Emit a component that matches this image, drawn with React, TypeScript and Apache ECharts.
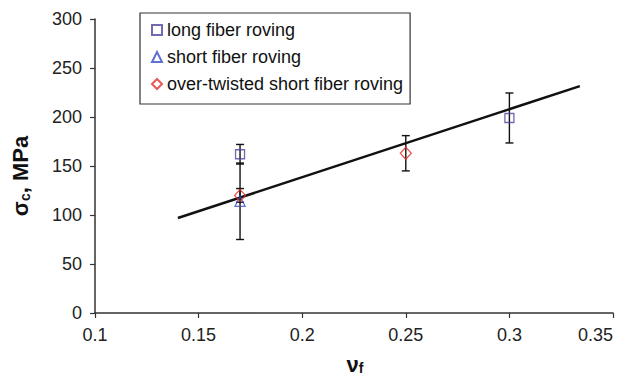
import React, { useEffect, useRef } from "react";
import * as echarts from "echarts";

const longX = [0.17, 0.3];
const longY = [162, 199];
const longErr = [10, 25.5];

const shortX = [0.17];
const shortY = [114];
const shortErr = [39];

const overX = [0.17, 0.25];
const overY = [120, 163];
const overErr = [7, 18];

const trendX = [0.14, 0.334];
const trendY = [97, 231.5];

const seriesNames = [
  "long fiber roving",
  "short fiber roving",
  "over-twisted short fiber roving",
];

const FONT = "Liberation Sans, Arial, Helvetica, sans-serif";

export default function App() {
  const ref = useRef<HTMLDivElement>(null);

  useEffect(() => {
    if (!ref.current) return;
    const chart = echarts.init(ref.current, undefined, { renderer: "svg" });

    const errData: number[][] = [];
    longX.forEach((x, i) => errData.push([x, longY[i] - longErr[i], longY[i] + longErr[i]]));
    shortX.forEach((x, i) => errData.push([x, shortY[i] - shortErr[i], shortY[i] + shortErr[i]]));
    overX.forEach((x, i) => errData.push([x, overY[i] - overErr[i], overY[i] + overErr[i]]));

    const option: any = {
      animation: false,
      backgroundColor: "#fff",
      textStyle: { fontFamily: FONT },
      grid: { left: 95, right: 14, top: 19, bottom: 68, containLabel: false },
      xAxis: {
        type: "value",
        min: 0.1,
        max: 0.35,
        interval: 0.05,
        splitLine: { show: false },
        axisLine: { show: true, onZero: false, lineStyle: { color: "#333", width: 1.5 } },
        axisTick: { show: true, inside: false, length: 5, lineStyle: { color: "#333", width: 1.2 } },
        axisLabel: {
          fontSize: 18,
          color: "#222",
          margin: 13,
          fontFamily: FONT,
          alignMaxLabel: "right",
          formatter: (v: number) => String(+v.toFixed(2)),
        },
      },
      yAxis: {
        type: "value",
        min: 0,
        max: 300,
        interval: 50,
        splitLine: { show: false },
        axisLine: { show: true, onZero: false, lineStyle: { color: "#333", width: 1.5 } },
        axisTick: { show: true, inside: false, length: 5, lineStyle: { color: "#333", width: 1.2 } },
        axisLabel: { fontSize: 18, color: "#222", margin: 13, fontFamily: FONT },
      },
      legend: {
        orient: "vertical",
        left: 140,
        top: 13,
        padding: [8, 7, 11, 11],
        itemGap: 9,
        itemWidth: 10,
        itemHeight: 10,
        borderColor: "#333",
        borderWidth: 1.2,
        backgroundColor: "#fff",
        textStyle: { fontSize: 18, color: "#111", fontFamily: FONT, lineHeight: 18 },
        data: seriesNames,
        selectedMode: false,
      },
      series: [
        {
          type: "custom",
          name: "errorbars",
          data: errData,
          z: 2,
          silent: true,
          renderItem: (params: any, api: any) => {
            const x = api.value(0);
            const top = api.coord([x, api.value(2)]);
            const bot = api.coord([x, api.value(1)]);
            const w = 4;
            const style = { stroke: "#111", lineWidth: 1.4 };
            return {
              type: "group",
              children: [
                { type: "line", shape: { x1: top[0], y1: top[1], x2: bot[0], y2: bot[1] }, style },
                { type: "line", shape: { x1: top[0] - w, y1: top[1], x2: top[0] + w, y2: top[1] }, style },
                { type: "line", shape: { x1: bot[0] - w, y1: bot[1], x2: bot[0] + w, y2: bot[1] }, style },
              ],
            };
          },
        },
        {
          type: "line",
          name: "trend",
          data: trendX.map((x, i) => [x, trendY[i]]),
          symbol: "none",
          z: 3,
          lineStyle: { color: "#111", width: 2.5 },
          silent: true,
        },
        {
          type: "scatter",
          name: seriesNames[0],
          data: longX.map((x, i) => [x, longY[i]]),
          symbol: "rect",
          symbolSize: 9,
          z: 4,
          itemStyle: { color: "rgba(255,255,255,0)", borderColor: "#4f43a0", borderWidth: 1.3 },
        },
        {
          type: "scatter",
          name: seriesNames[1],
          data: shortX.map((x, i) => [x, shortY[i]]),
          symbol: "triangle",
          symbolSize: [10, 10],
          z: 4,
          itemStyle: { color: "rgba(255,255,255,0)", borderColor: "#3a4ec4", borderWidth: 1.3 },
        },
        {
          type: "scatter",
          name: seriesNames[2],
          data: overX.map((x, i) => [x, overY[i]]),
          symbol: "diamond",
          symbolSize: [11, 12],
          z: 4,
          itemStyle: { color: "rgba(255,255,255,0)", borderColor: "#e2302a", borderWidth: 1.3 },
        },
      ],
      graphic: [
        {
          type: "text",
          x: 20,
          y: 176,
          rotation: Math.PI / 2,
          style: {
            text: "{a|σ}{b|c}{a|, MPa}",
            align: "center",
            verticalAlign: "middle",
            fill: "#111",
            rich: {
              a: { fontSize: 22, fontWeight: "bold", fontFamily: FONT, lineHeight: 24, fill: "#111" },
              b: { fontSize: 14, fontWeight: "bold", fontFamily: FONT, lineHeight: 14, verticalAlign: "bottom", fill: "#111" },
            },
          },
        },
        {
          type: "text",
          x: 355,
          y: 364,
          style: {
            text: "{a|ν}{b|f}",
            align: "center",
            verticalAlign: "middle",
            fill: "#111",
            rich: {
              a: { fontSize: 22, fontWeight: "bold", fontFamily: FONT, lineHeight: 22, fill: "#111" },
              b: { fontSize: 14, fontWeight: "bold", fontFamily: FONT, lineHeight: 12, verticalAlign: "bottom", fill: "#111" },
            },
          },
        },
      ],
    };

    chart.setOption(option);
    return () => chart.dispose();
  }, []);

  return <div ref={ref} style={{ width: 627, height: 381, margin: -8 }} />;
}
